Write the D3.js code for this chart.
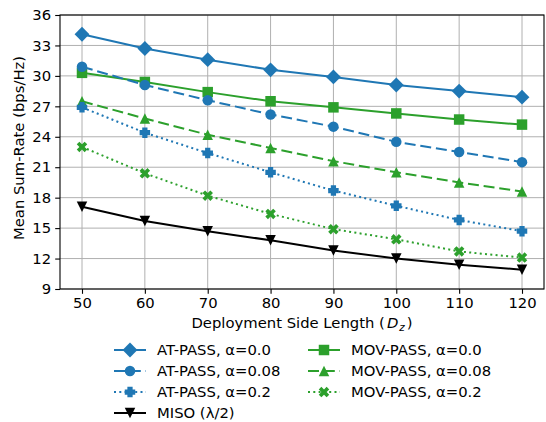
<!DOCTYPE html>
<html>
<head>
<meta charset="utf-8">
<script src="https://cdn.jsdelivr.net/npm/d3@7"></script>
<style>
  body { margin: 0; background: #fff; }
  svg { display: block; font-family: "DejaVu Sans", sans-serif; }
</style>
</head>
<body>
<div id="chart"></div>
<script>
// side lengths on the x axis
const sideLengths = [50, 60, 70, 80, 90, 100, 110, 120];
const yTicks = [9, 12, 15, 18, 21, 24, 27, 30, 33, 36];

// series
const atPass00 = [34.1, 32.7, 31.6, 30.6, 29.9, 29.1, 28.5, 27.9];
const atPass008 = [30.9, 29.1, 27.6, 26.2, 25.0, 23.5, 22.5, 21.5];
const atPass02 = [26.9, 24.4, 22.4, 20.5, 18.7, 17.2, 15.8, 14.7];
const misoHalf = [17.1, 15.7, 14.7, 13.8, 12.8, 12.0, 11.4, 10.9];
const movPass00 = [30.3, 29.4, 28.4, 27.5, 26.9, 26.3, 25.7, 25.2];
const movPass008 = [27.5, 25.8, 24.2, 22.9, 21.6, 20.5, 19.5, 18.6];
const movPass02 = [23.0, 20.4, 18.2, 16.4, 14.9, 13.9, 12.7, 12.1];

const blue = "#1f77b4", green = "#2ca02c";

const series = [
  { name: "AT-PASS, α=0.0", values: atPass00, color: blue, dash: null, marker: "D" },
  { name: "AT-PASS, α=0.08", values: atPass008, color: blue, dash: "11,4.8", marker: "o" },
  { name: "AT-PASS, α=0.2", values: atPass02, color: blue, dash: "2,3.3", marker: "P" },
  { name: "MISO (λ/2)", values: misoHalf, color: "#000", dash: null, marker: "v" },
  { name: "MOV-PASS, α=0.0", values: movPass00, color: green, dash: null, marker: "s" },
  { name: "MOV-PASS, α=0.08", values: movPass008, color: green, dash: "11,4.8", marker: "^" },
  { name: "MOV-PASS, α=0.2", values: movPass02, color: green, dash: "2,3.3", marker: "X" }
];

const W = 546, H = 422;
const margin = { top: 15, right: 2, bottom: 133, left: 60 };
const width = W - margin.left - margin.right,
  height = H - margin.top - margin.bottom;
const fontSize = 14.8;
const ms = 10.5; // marker size in px

const svg = d3.select("#chart").append("svg")
  .attr("width", W).attr("height", H);

const g = svg.append("g")
  .attr("transform", "translate(" + margin.left + "," + margin.top + ")");

let x = d3.scaleLinear().domain([46.5, 123.5]).range([0, width]);
let y = d3.scaleLinear().domain([9, 36]).range([height, 0]);

// grid
g.append("g").selectAll("line").data(sideLengths).join("line")
  .attr("x1", d => x(d)).attr("x2", d => x(d))
  .attr("y1", 0).attr("y2", height)
  .attr("stroke", "#b0b0b0").attr("stroke-width", 1);
g.append("g").selectAll("line").data(yTicks).join("line")
  .attr("x1", 0).attr("x2", width)
  .attr("y1", d => y(d)).attr("y2", d => y(d))
  .attr("stroke", "#b0b0b0").attr("stroke-width", 1);

// axes
let xAxis = d3.axisBottom(x).tickValues(sideLengths).tickSize(4.8).tickPadding(4);
let yAxis = d3.axisLeft(y).tickValues(yTicks).tickSize(4.8).tickPadding(4);

g.append("g").attr("transform", "translate(0," + height + ")").call(xAxis)
  .call(a => a.select(".domain").remove());
g.append("g").call(yAxis)
  .call(a => a.select(".domain").remove());
g.selectAll(".tick text").attr("font-size", fontSize).attr("fill", "#000")
  .attr("font-family", "DejaVu Sans");
g.selectAll(".tick line").attr("stroke", "#000").attr("stroke-width", 1.1);

// frame
g.append("rect").attr("x", 0).attr("y", 0).attr("width", width).attr("height", height)
  .attr("fill", "none").attr("stroke", "#000").attr("stroke-width", 1.1);

// marker shapes
function markerPath(type, s) {
  const h = s / 2;
  let pts;
  if (type === "D") {
    const r = s * Math.SQRT1_2;
    pts = [[0, -r], [r, 0], [0, r], [-r, 0]];
  } else if (type === "s") {
    pts = [[-h, -h], [h, -h], [h, h], [-h, h]];
  } else if (type === "^") {
    pts = [[0, -h], [h, h], [-h, h]];
  } else if (type === "v") {
    pts = [[0, h], [h, -h], [-h, -h]];
  } else if (type === "P") {
    const a = [[-1, -2], [-1, -1], [-2, -1], [-2, 1], [-1, 1], [-1, 2], [1, 2], [1, 1], [2, 1], [2, -1], [1, -1], [1, -2]];
    pts = a.map(p => [p[0] * s / 4, p[1] * s / 4]);
  } else if (type === "X") {
    const a = [[-1, -2], [0, -1], [1, -2], [2, -1], [1, 0], [2, 1], [1, 2], [0, 1], [-1, 2], [-2, 1], [-1, 0], [-2, -1]];
    pts = a.map(p => [p[0] * s / 4, p[1] * s / 4]);
  } else {
    return d3.symbol().type(d3.symbolCircle).size(Math.PI * h * h)();
  }
  return "M" + pts.map(p => p.join(",")).join("L") + "Z";
}

const line = d3.line().x((d, i) => x(sideLengths[i])).y(d => y(d));

// draw MOV first so AT and MISO end up on top
const drawOrder = [4, 5, 6, 0, 1, 2, 3];
drawOrder.forEach(k => {
  const s = series[k];
  const sg = g.append("g");
  sg.append("path").datum(s.values)
    .attr("d", line)
    .attr("fill", "none")
    .attr("stroke", s.color)
    .attr("stroke-width", 2)
    .attr("stroke-dasharray", s.dash);
  sg.selectAll("path.mk").data(s.values).join("path")
    .attr("class", "mk")
    .attr("transform", (d, i) => "translate(" + x(sideLengths[i]) + "," + y(d) + ")")
    .attr("d", markerPath(s.marker, ms))
    .attr("fill", s.color);
});

// axis titles
const xt = svg.append("text")
  .attr("x", margin.left + width / 2).attr("y", 328)
  .attr("text-anchor", "middle").attr("font-size", fontSize);
xt.append("tspan").text("Deployment Side Length (");
xt.append("tspan").attr("font-style", "italic").attr("dx", 2).text("D");
xt.append("tspan").attr("font-style", "italic").attr("font-size", fontSize * 0.7)
  .attr("dx", 1).attr("dy", 3).text("z");
xt.append("tspan").attr("dx", 2).attr("dy", -3).text(")");

svg.append("text")
  .attr("transform", "translate(19,148) rotate(-90)")
  .attr("text-anchor", "middle").attr("dy", "0.35em")
  .attr("font-size", fontSize)
  .text("Mean Sum-Rate (bps/Hz)");

// legend, two columns
const legendCols = [114, 308];
const rowY = [350, 371, 392, 413];
series.forEach((s, i) => {
  const col = i < 4 ? 0 : 1;
  const row = i < 4 ? i : i - 4;
  const lx = legendCols[col], ly = rowY[row];
  const lg = svg.append("g").attr("transform", "translate(" + lx + "," + ly + ")");
  lg.append("line").attr("x1", 0).attr("x2", 32).attr("y1", 0).attr("y2", 0)
    .attr("stroke", s.color).attr("stroke-width", 2)
    .attr("stroke-dasharray", s.dash);
  lg.append("path").attr("transform", "translate(16,0)")
    .attr("d", markerPath(s.marker, ms)).attr("fill", s.color);
  lg.append("text").attr("x", 43).attr("y", 0).attr("dy", "0.35em")
    .attr("font-size", fontSize).text(s.name);
});
</script>
</body>
</html>
